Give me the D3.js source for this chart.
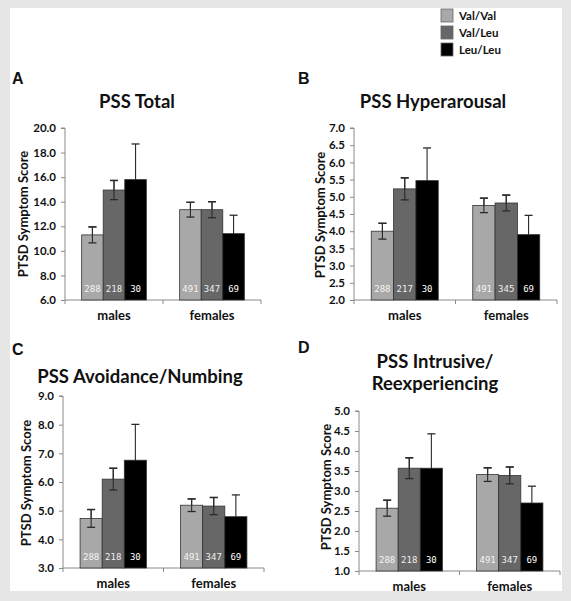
<!DOCTYPE html>
<html><head><meta charset="utf-8">
<script src="https://cdn.jsdelivr.net/npm/d3@7"></script>
<style>
html,body{margin:0;padding:0;background:#e6e6e6;}
svg{display:block;}
</style></head>
<body>
<svg id="chart" width="571" height="601"></svg>
<script>
// ---------------- DATA ----------------
const groups = ["males", "females"];
const genotypes = ["Val/Val", "Val/Leu", "Leu/Leu"];

const meansA = [[11.3, 14.95, 15.8], [13.35, 13.35, 11.4]];
const errA   = [[0.65, 0.78, 2.9], [0.6, 0.65, 1.5]];
const nA     = [[288, 218, 30], [491, 347, 69]];
const ticksA = [6, 8, 10, 12, 14, 16, 18, 20];

const meansB = [[4.0, 5.23, 5.47], [4.75, 4.82, 3.9]];
const errB   = [[0.23, 0.32, 0.95], [0.21, 0.23, 0.56]];
const nB     = [[288, 217, 30], [491, 345, 69]];
const ticksB = [2, 2.5, 3, 3.5, 4, 4.5, 5, 5.5, 6, 6.5, 7];

const meansC = [[4.73, 6.1, 6.76], [5.19, 5.16, 4.79]];
const errC   = [[0.31, 0.38, 1.25], [0.22, 0.3, 0.76]];
const nC     = [[288, 218, 30], [491, 347, 69]];
const ticksC = [3, 4, 5, 6, 7, 8, 9];

const meansD = [[2.57, 3.57, 3.57], [3.41, 3.39, 2.7]];
const errD   = [[0.2, 0.26, 0.86], [0.17, 0.21, 0.42]];
const nD     = [[288, 218, 30], [491, 347, 69]];
const ticksD = [1, 1.5, 2, 2.5, 3, 3.5, 4, 4.5, 5];

const titles = [["PSS Total"], ["PSS Hyperarousal"], ["PSS Avoidance/Numbing"], ["PSS Intrusive/", "Reexperiencing"]];
const letters = ["A", "B", "C", "D"];
const yTitle = "PTSD Symptom Score";

// ---------------- STYLE / LAYOUT ----------------
const colors = ["#a8a8a8", "#676767", "#000000"];
const labelColors = ["#f4f4f4", "#eeeeee", "#ffffff"];
const FONT = "Lato, 'Open Sans', sans-serif";

const layout = [
  {x0: 65, x1: 261, yT: 128, yB: 300, titleX: 137, titleY: [108], letterX: 12, letterY: 84, ytX: 28, ytY: 214},
  {x0: 354, x1: 557, yT: 128, yB: 300, titleX: 433, titleY: [108], letterX: 298, letterY: 84, ytX: 325, ytY: 215},
  {x0: 63, x1: 264, yT: 396, yB: 568, titleX: 140, titleY: [383], letterX: 12, letterY: 355, ytX: 31, ytY: 483},
  {x0: 359, x1: 560, yT: 411, yB: 571, titleX: 435, titleY: [368, 390], letterX: 298, letterY: 353, ytX: 331, ytY: 487}
];

const panelData = [
  {means: meansA, err: errA, n: nA, ticks: ticksA},
  {means: meansB, err: errB, n: nB, ticks: ticksB},
  {means: meansC, err: errC, n: nC, ticks: ticksC},
  {means: meansD, err: errD, n: nD, ticks: ticksD}
];

const svg = d3.select("#chart");
svg.append("rect").attr("x", 0).attr("y", 0).attr("width", 571).attr("height", 601).attr("fill", "#e6e6e6");
svg.append("rect").attr("x", 10).attr("y", 8).attr("width", 552).attr("height", 583).attr("fill", "#ffffff");

panelData.forEach((pd, i) => {
  const L = layout[i];
  const g = svg.append("g");
  const domain = d3.extent(pd.ticks);
  const y = d3.scaleLinear().domain(domain).range([L.yB, L.yT]);
  const x = d3.scaleBand().domain(groups).range([L.x0, L.x1]).paddingInner(0.34).paddingOuter(0.17);
  const xs = d3.scaleBand().domain(genotypes).range([0, x.bandwidth()]).padding(0);

  // y axis
  const yAxis = d3.axisLeft(y).tickValues(pd.ticks).tickFormat(d3.format(".1f")).tickSize(4).tickPadding(5);
  const ya = g.append("g").attr("transform", `translate(${L.x0},0)`).call(yAxis);
  ya.select(".domain").attr("stroke", "#8a8a8a").attr("d", `M-4,${L.yT}H0V${L.yB}`);
  ya.selectAll(".tick line").attr("stroke", "#8a8a8a");
  ya.selectAll(".tick text").attr("fill", "#111").style("font-family", FONT).style("font-weight", "bold").style("font-size", "11.5px");

  // x axis line with divider ticks
  const xa = g.append("g");
  xa.append("line").attr("x1", L.x0).attr("x2", L.x1).attr("y1", L.yB).attr("y2", L.yB).attr("stroke", "#8a8a8a");
  const boundaries = [L.x0, (x("males") + x.bandwidth() + x("females")) / 2, L.x1];
  xa.selectAll("line.div").data(boundaries).join("line").attr("class", "div")
    .attr("x1", d => d).attr("x2", d => d).attr("y1", L.yB).attr("y2", L.yB + 4).attr("stroke", "#8a8a8a");
  xa.selectAll("text").data(groups).join("text")
    .attr("x", d => x(d) + x.bandwidth() / 2).attr("y", L.yB + 20)
    .attr("text-anchor", "middle").attr("fill", "#111")
    .style("font-family", FONT).style("font-weight", "bold").style("font-size", "13px")
    .text(d => d);

  // bars
  const rows = [];
  groups.forEach((gr, gi) => genotypes.forEach((gt, ti) => {
    rows.push({group: gr, geno: gt, ti, mean: pd.means[gi][ti], err: pd.err[gi][ti], n: pd.n[gi][ti]});
  }));
  const bx = d => x(d.group) + xs(d.geno);
  const cx = d => bx(d) + xs.bandwidth() / 2;

  const drawErr = (sel, data) => {
    sel.selectAll("line.v").data(data).join("line").attr("class", "v")
      .attr("x1", cx).attr("x2", cx)
      .attr("y1", d => y(d.mean + d.err)).attr("y2", d => y(d.mean - d.err))
      .attr("stroke", "#2a2a2a").attr("stroke-width", 1.1);
    sel.selectAll("line.c1").data(data).join("line").attr("class", "c1")
      .attr("x1", d => cx(d) - 4).attr("x2", d => cx(d) + 4)
      .attr("y1", d => y(d.mean + d.err)).attr("y2", d => y(d.mean + d.err))
      .attr("stroke", "#2a2a2a").attr("stroke-width", 1.3);
    sel.selectAll("line.c2").data(data).join("line").attr("class", "c2")
      .attr("x1", d => cx(d) - 4).attr("x2", d => cx(d) + 4)
      .attr("y1", d => y(d.mean - d.err)).attr("y2", d => y(d.mean - d.err))
      .attr("stroke", "#2a2a2a").attr("stroke-width", 1.3);
  };

  // error bars behind the bars (the black bar hides its lower half)
  drawErr(g.append("g"), rows);

  g.append("g").selectAll("rect").data(rows).join("rect")
    .attr("x", bx).attr("width", xs.bandwidth())
    .attr("y", d => y(d.mean)).attr("height", d => y(domain[0]) - y(d.mean))
    .attr("fill", d => colors[d.ti]).attr("stroke", "#333").attr("stroke-width", 0.8);

  // full error bars visible over the grey bars
  drawErr(g.append("g"), rows.filter(d => d.ti < 2));

  // n labels
  g.append("g").selectAll("text").data(rows).join("text")
    .attr("x", cx).attr("y", L.yB - 8)
    .attr("text-anchor", "middle").attr("fill", d => labelColors[d.ti])
    .style("font-family", "'DejaVu Sans Mono', monospace").style("font-size", "9px")
    .text(d => d.n);

  // y axis title
  g.append("text")
    .attr("transform", `translate(${L.ytX},${L.ytY}) rotate(-90)`)
    .attr("text-anchor", "middle").attr("fill", "#111")
    .style("font-family", FONT).style("font-weight", "bold").style("font-size", "13px")
    .text(yTitle);

  // title
  const t = g.append("text").attr("text-anchor", "middle").attr("fill", "#111")
    .style("font-family", FONT).style("font-weight", "bold").style("font-size", "18.5px");
  titles[i].forEach((line, li) => {
    t.append("tspan").attr("x", L.titleX).attr("y", L.titleY[li]).text(line);
  });

  // panel letter
  g.append("text").attr("x", L.letterX).attr("y", L.letterY).attr("fill", "#111")
    .style("font-family", "'Liberation Sans', Arial, sans-serif").style("font-weight", "bold").style("font-size", "16px")
    .text(letters[i]);
});

// legend
const lg = svg.append("g");
const legY = d3.scalePoint().domain(genotypes).range([9, 43]);
lg.selectAll("rect").data(genotypes).join("rect")
  .attr("x", 441).attr("y", d => legY(d)).attr("width", 12).attr("height", 13)
  .attr("fill", (d, i) => colors[i]).attr("stroke", "#666").attr("stroke-width", 0.8);
lg.selectAll("text").data(genotypes).join("text")
  .attr("x", 459).attr("y", d => legY(d) + 11).attr("fill", "#111")
  .style("font-family", FONT).style("font-weight", "bold").style("font-size", "11.5px")
  .text(d => d);
</script>
</body></html>
